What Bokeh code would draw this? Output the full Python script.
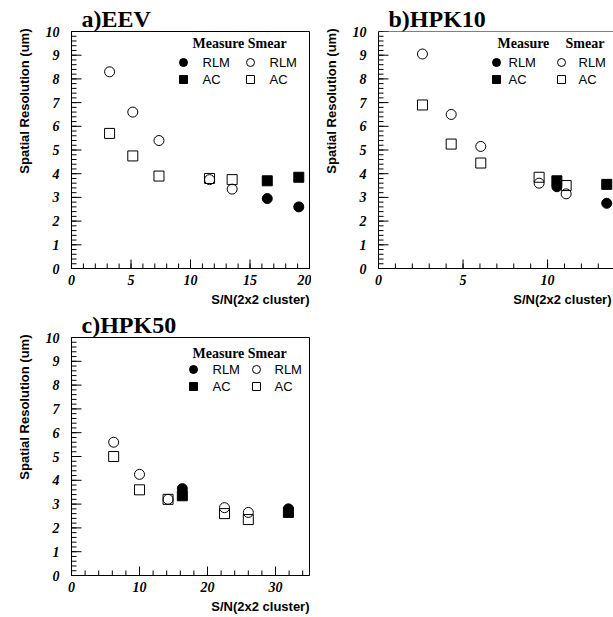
import math
from bokeh.plotting import figure
from bokeh.layouts import column, row
from bokeh.models import (Label, Span, SingleIntervalTicker, Range1d, Title,
                          ColumnDataSource)
from bokeh.embed import file_html
from bokeh.resources import INLINE

# ---------------- data ----------------
y_max = 10

# a) EEV
eev_smear_x = [3.2, 5.15, 7.35, 11.6, 13.5]
eev_smear_rlm = [8.3, 6.6, 5.4, 3.75, 3.35]
eev_smear_ac = [5.7, 4.75, 3.9, 3.8, 3.75]
eev_meas_x = [16.45, 19.1]
eev_meas_rlm = [2.95, 2.6]
eev_meas_ac = [3.7, 3.85]

# b) HPK10
hpk10_smear_x = [2.6, 4.3, 6.05, 9.5, 11.1]
hpk10_smear_rlm = [9.05, 6.5, 5.15, 3.6, 3.15]
hpk10_smear_ac = [6.9, 5.25, 4.45, 3.85, 3.5]
hpk10_meas_x = [10.55, 13.5]
hpk10_meas_rlm = [3.45, 2.75]
hpk10_meas_ac = [3.7, 3.55]

# c) HPK50
hpk50_smear_x = [6.2, 10.0, 14.2, 22.5, 26.0]
hpk50_smear_rlm = [5.6, 4.25, 3.2, 2.85, 2.65]
hpk50_smear_ac = [5.0, 3.6, 3.2, 2.6, 2.35]
hpk50_meas_x = [16.3, 31.9]
hpk50_meas_rlm = [3.65, 2.8]
hpk50_meas_ac = [3.35, 2.65]

x_label = "S/N(2x2 cluster)"
y_label = "Spatial Resolution (um)"

SERIF = "Liberation Serif"
SANS = "Liberation Sans"


def steps(end, step):
    n = int(round(end / step + 1e-6))
    vals = [round(i * step, 6) for i in range(n + 1)]
    return [v for v in vals if v <= end + 1e-9]


def make_panel(title, x_end, x_step, left, fw, right, top, fh, bottom, ylab_standoff,
               xlab_standoff, xlab_offset=0, outline=True):
    p = figure(frame_width=fw, frame_height=fh,
               x_range=Range1d(0, x_end), y_range=Range1d(0, y_max),
               output_backend="svg", toolbar_location=None,
               min_border_left=left, min_border_right=right,
               min_border_top=top, min_border_bottom=bottom)
    p.grid.visible = False
    p.background_fill_color = "white"
    p.border_fill_color = "white"
    p.outline_line_color = "black" if outline else None
    p.outline_line_width = 1
    p.xaxis.ticker = SingleIntervalTicker(interval=x_step, num_minor_ticks=5)
    p.yaxis.ticker = SingleIntervalTicker(interval=1, num_minor_ticks=5)
    for ax in (p.xaxis[0], p.yaxis[0]):
        ax.axis_line_color = "black"
        ax.axis_line_width = 1
        ax.major_tick_in = 0
        ax.major_tick_out = 0
        ax.minor_tick_in = 0
        ax.minor_tick_out = 0
        ax.major_tick_line_color = None
        ax.minor_tick_line_color = None
        ax.major_label_text_font = SERIF
        ax.major_label_text_font_style = "bold italic"
        ax.major_label_text_font_size = "14px"
        ax.major_label_text_color = "black"
    p.xaxis[0].major_label_standoff = 6
    p.yaxis[0].major_label_standoff = 12

    # panel title
    p.title.text = title
    p.title.align = "left"
    p.title.offset = 10
    p.title.standoff = 0
    p.title.text_font = SERIF
    p.title.text_font_style = "bold"
    p.title.text_font_size = "24px"
    p.title.text_color = "black"

    # axis titles (ROOT style: aligned at the high end of each axis)
    p.add_layout(Title(text=y_label, align="right", standoff=ylab_standoff, offset=-3,
                       text_font=SANS, text_font_style="bold", text_font_size="13px",
                       text_color="black"), "left")
    p.add_layout(Title(text=x_label, align="right", standoff=xlab_standoff,
                       offset=xlab_offset,
                       text_font=SANS, text_font_style="bold", text_font_size="13px",
                       text_color="black"), "below")

    def pos(dx, dy):
        # dx: pixels from frame left, dy: pixels above frame top (negative = below)
        return dx / fw * x_end, y_max + dy / fh * y_max

    p._pos = pos
    p._ticks = (x_end, x_step, fw, fh)
    return p


def add_ticks(p):
    # ROOT-style ticks pointing into the frame, at the axis tick intervals
    x_end, x_step, fw, fh = p._ticks
    xu = x_end / fw
    yu = y_max / fh
    for vals, ln in ((steps(y_max, 1.0), 10), (steps(y_max, 0.2), 5)):
        n = len(vals)
        d = dict(x0=[0.0] * n, x1=[ln * xu] * n, y0=list(vals), y1=list(vals))
        p.segment("x0", "y0", "x1", "y1", source=ColumnDataSource(d),
                  line_color="black", line_width=1)
    for vals, ln in ((steps(x_end, x_step), 9), (steps(x_end, x_step / 5), 5)):
        n = len(vals)
        d = dict(x0=list(vals), x1=list(vals), y0=[0.0] * n, y1=[ln * yu] * n)
        p.segment("x0", "y0", "x1", "y1", source=ColumnDataSource(d),
                  line_color="black", line_width=1)


def add_data(p, sx, srlm, sac, mx, mrlm, mac):
    p.scatter(sx, srlm, marker="circle", size=10, fill_color=None,
              line_color="black", line_width=1)
    p.scatter(sx, sac, marker="square", size=10, fill_color=None,
              line_color="black", line_width=1)
    p.scatter(mx, mrlm, marker="circle", size=10, fill_color="black",
              line_color="black")
    p.scatter(mx, mac, marker="square", size=10, fill_color="black",
              line_color="black")


def add_legend(p, headers, rows_dy, m1, t1, m2, t2):
    for text, dx, dy in headers:
        x, y = p._pos(dx, dy)
        p.add_layout(Label(x=x, y=y, text=text, text_font=SERIF, text_font_style="bold",
                           text_font_size="14px", text_align="left", text_baseline="middle",
                           text_color="black"))
    for name, marker, dy in (("RLM", "circle", rows_dy[0]), ("AC", "square", rows_dy[1])):
        x1, y1 = p._pos(m1, dy)
        x2, _ = p._pos(m2, dy)
        p.scatter([x1], [y1], marker=marker, size=8, fill_color="black", line_color="black")
        p.scatter([x2], [y1], marker=marker, size=8, fill_color=None, line_color="black",
                  line_width=1)
        for tdx in (t1, t2):
            tx, _ = p._pos(tdx, dy)
            p.add_layout(Label(x=tx, y=y1, text=name, text_font=SANS,
                               text_font_size="13px", text_align="left",
                               text_baseline="middle", text_color="black"))


# ---------------- panel a ----------------
pa = make_panel("a)EEV", 20, 5, 71, 238, 2, 31, 237, 41, 21, 5)
add_data(pa, eev_smear_x, eev_smear_rlm, eev_smear_ac, eev_meas_x, eev_meas_rlm, eev_meas_ac)
add_legend(pa, [("Measure Smear", 121, -12)], (-31, -48), 112, 131, 179, 198)
add_ticks(pa)

# ---------------- panel b ----------------
hpk10_x_end = 13.9
pb = make_panel("b)HPK10", hpk10_x_end, 5, 67, 235, 0, 31, 237, 41, 21, 5, xlab_offset=2,
                outline=False)
pb.add_layout(Span(location=y_max, dimension="width", line_color="black", line_width=1))
add_data(pb, hpk10_smear_x, hpk10_smear_rlm, hpk10_smear_ac, hpk10_meas_x, hpk10_meas_rlm,
         hpk10_meas_ac)
add_legend(pb, [("Measure", 119, -12), ("Smear", 187, -12)], (-31, -48), 118, 130, 183, 200)
add_ticks(pb)

# ---------------- panel c ----------------
pc = make_panel("c)HPK50", 35, 10, 71, 238, 10, 27, 238, 40, 21, 5)
add_data(pc, hpk50_smear_x, hpk50_smear_rlm, hpk50_smear_ac, hpk50_meas_x, hpk50_meas_rlm,
         hpk50_meas_ac)
add_legend(pc, [("Measure Smear", 121, -16)], (-32, -49), 122, 141, 185, 203)
add_ticks(pc)

layout = column(row(pa, pb), pc)
open("out.html", "w").write(file_html(layout, INLINE))
